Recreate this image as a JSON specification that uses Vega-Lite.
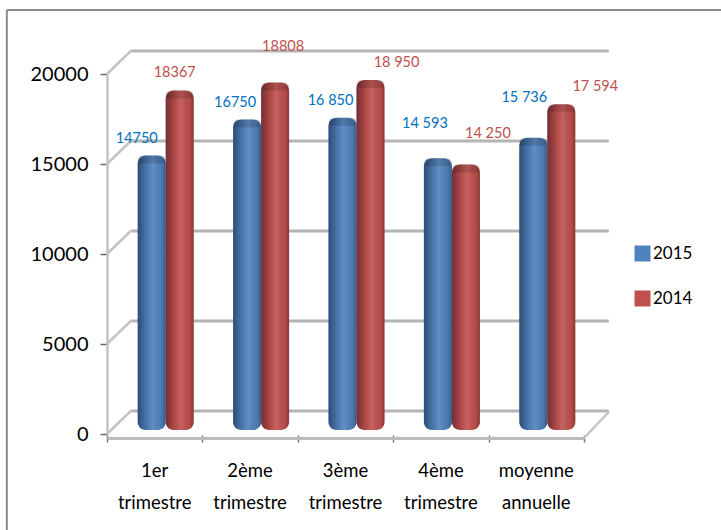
{
 "$schema":"https://vega.github.io/schema/vega-lite/v6.json",
 "width":477,"height":360,"autosize":"none",
 "padding":{"left":107,"top":74,"right":137,"bottom":96},
 "background":"white",
 "config":{"view":{"stroke":null},"font":"Lato"},
 "datasets":{
  "bars":[
   {"cat":"1er trimestre","series":"2015","value":14750,"label":"14750"},
   {"cat":"1er trimestre","series":"2014","value":18367,"label":"18367"},
   {"cat":"2ème trimestre","series":"2015","value":16750,"label":"16750"},
   {"cat":"2ème trimestre","series":"2014","value":18808,"label":"18808"},
   {"cat":"3ème trimestre","series":"2015","value":16850,"label":"16 850"},
   {"cat":"3ème trimestre","series":"2014","value":18950,"label":"18 950"},
   {"cat":"4ème trimestre","series":"2015","value":14593,"label":"14 593"},
   {"cat":"4ème trimestre","series":"2014","value":14250,"label":"14 250"},
   {"cat":"moyenne annuelle","series":"2015","value":15736,"label":"15 736"},
   {"cat":"moyenne annuelle","series":"2014","value":17594,"label":"17 594"}
  ],
  "grid":[{"v":0},{"v":5000},{"v":10000},{"v":15000},{"v":20000}]
 },
 "resolve":{"scale":{"x":"independent"}},
 "layer":[
  {"data":{"values":[{"k":"frame"}]},
   "mark":{"type":"rule","stroke":"#8c8c8c","strokeWidth":2},
   "encoding":{
    "x":{"datum":-1.05,"type":"quantitative","scale":{"domain":[0,5],"nice":false,"zero":false},"axis":null},
    "x2":{"datum":6.5},
    "y":{"datum":23550,"type":"quantitative","scale":{"domain":[0,20000],"nice":false}}
   }},
  {"data":{"values":[{"k":"frame"}]},
   "mark":{"type":"rule","stroke":"#8c8c8c","strokeWidth":2},
   "encoding":{
    "x":{"datum":-1.05,"type":"quantitative","scale":{"domain":[0,5],"nice":false,"zero":false},"axis":null},
    "y":{"datum":23550,"type":"quantitative","scale":{"domain":[0,20000],"nice":false}},
    "y2":{"datum":-5400}
   }},
  {"data":{"name":"grid"},
   "mark":{"type":"rule","stroke":"#b4b4b4","strokeWidth":3,"yOffset":-23},
   "encoding":{
    "x":{"datum":0.26,"type":"quantitative","scale":{"domain":[0,5],"nice":false,"zero":false},"axis":null},
    "x2":{"datum":5.26},
    "y":{"field":"v","type":"quantitative","scale":{"domain":[0,20000],"nice":false},
      "axis":{"values":[0,5000,10000,15000,20000],"format":"d","title":null,"grid":false,"labelFontSize":20,"labelColor":"#000","labelPadding":12,"tickSize":7,"tickColor":"#666","tickWidth":1.5,"domainColor":"#c4c4c4","domainWidth":2.5,"labelFont":"Lato"}}
   }},
  {"data":{"name":"grid"},
   "mark":{"type":"rule","stroke":"#c4c4c4","strokeWidth":2.5,"y2Offset":-24},
   "encoding":{
    "x":{"datum":0,"type":"quantitative","scale":{"domain":[0,5],"nice":false,"zero":false},"axis":null},
    "x2":{"datum":0.26},
    "y":{"field":"v","type":"quantitative","scale":{"domain":[0,20000],"nice":false}},
    "y2":{"field":"v"}
   }},
  {"data":{"values":[{"k":"floor"}]},
   "mark":{"type":"rule","stroke":"#c4c4c4","strokeWidth":2.5},
   "encoding":{
    "x":{"datum":5,"type":"quantitative","scale":{"domain":[0,5],"nice":false,"zero":false},
      "axis":{"orient":"bottom","values":[0,1,2,3,4,5],"labels":false,"title":null,"grid":false,"domain":false,"offset":1,"tickSize":7,"tickColor":"#777","tickWidth":1.5}},
    "x2":{"datum":5.26},
    "y":{"datum":-222,"type":"quantitative","scale":{"domain":[0,20000],"nice":false}},
    "y2":{"datum":1222}
   }},
  {"data":{"name":"bars"},
   "encoding":{
    "x":{"field":"cat","type":"nominal","sort":null,
      "scale":{"paddingInner":0.413,"paddingOuter":0.2065},
      "axis":{"orient":"bottom","title":null,"offset":4,"labelAngle":0,"labelFontSize":18.5,"labelColor":"#000","labelPadding":23,"labelLineHeight":32,"labelExpr":"split(datum.label,' ')","labelFont":"Lato","ticks":false,"domainColor":"#bcbcbc","domainWidth":3}},
    "xOffset":{"field":"series","type":"nominal","scale":{"domain":["2015","2014"],"padding":0,"range":[11,67]}}
   },
   "layer":[
    {"mark":{"type":"bar","yOffset":-13,"y2Offset":-4,"cornerRadius":8},
     "encoding":{
      "y":{"field":"value","type":"quantitative","scale":{"domain":[0,20000],"nice":false}},
      "y2":{"datum":0},
      "color":{"field":"series","type":"nominal","scale":{"domain":["2015","2014"],"range":["#4f81bd","#c0504d"]},
        "legend":{"title":null,"orient":"none","legendX":527,"legendY":171,"symbolType":"square","symbolSize":256,"symbolStrokeWidth":0,"symbolOpacity":1,"labelFontSize":17,"labelColor":"#000","labelOffset":2,"rowPadding":27,"labelFont":"Lato"}}
     }},
    {"mark":{"type":"bar","yOffset":-13,"y2Offset":-4,"cornerRadius":8,
      "fill":{"gradient":"linear","x1":0,"x2":1,"y1":0,"y2":0,"stops":[
        {"offset":0,"color":"rgba(0,0,30,0.42)"},
        {"offset":0.3,"color":"rgba(0,0,0,0.1)"},
        {"offset":0.55,"color":"rgba(255,255,255,0.1)"},
        {"offset":0.85,"color":"rgba(0,0,0,0.05)"},
        {"offset":1,"color":"rgba(0,0,0,0.3)"}]}},
     "encoding":{
      "y":{"field":"value","type":"quantitative","scale":{"domain":[0,20000],"nice":false}},
      "y2":{"datum":0}
     }},
    {"mark":{"type":"bar","yOffset":-13,"y2Offset":-5,"cornerRadius":4,"fill":"#000","fillOpacity":0.14},
     "encoding":{
      "y":{"field":"value","type":"quantitative","scale":{"domain":[0,20000],"nice":false}},
      "y2":{"field":"value"}
     }},
    {"mark":{"type":"text","fontSize":14.5,"font":"Lato","baseline":"middle",
      "dx":{"expr":"{'14750':10,'18367':48,'16750':13,'18808':61,'16 850':13,'18 950':79,'14 593':12,'14 250':75,'15 736':16,'17 594':87}[datum.label]"},
      "dy":{"expr":"{'14750':-30,'18367':-30,'16750':-30,'18808':-48,'16 850':-30,'18 950':-30,'14 593':-47,'14 250':-44,'15 736':-53,'17 594':-30}[datum.label]"},
      "color":{"expr":"datum.series=='2015'?'#0070c0':'#c0504d'"}},
     "encoding":{
      "xOffset":{"value":0},
      "y":{"field":"value","type":"quantitative","scale":{"domain":[0,20000],"nice":false}},
      "text":{"field":"label"}
     }}
   ]
  }
 ]
}
